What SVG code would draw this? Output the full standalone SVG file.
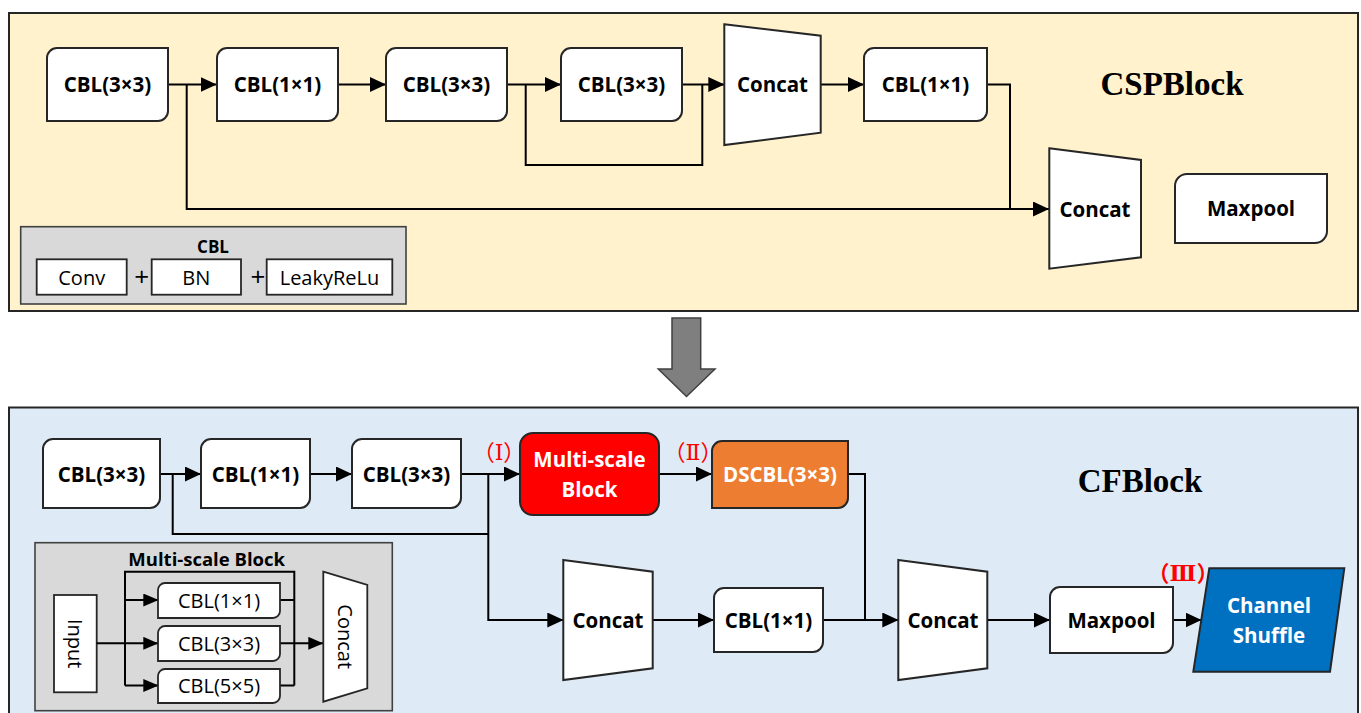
<svg xmlns="http://www.w3.org/2000/svg" width="1361" height="713" viewBox="0 0 1361 713">
<style>
.panel{stroke:#262626;stroke-width:2}
.node{fill:#fff;stroke:#262626;stroke-width:2}
.leg{fill:#D9D9D9;stroke:#404040;stroke-width:1.6}
.lbox{fill:#fff;stroke:#262626;stroke-width:1.8}
.con{fill:none;stroke:#000;stroke-width:2}
.b{font-family:"Open Sans","Liberation Sans",sans-serif;font-weight:bold;font-size:20.5px;text-anchor:middle;fill:#000}
.r{font-family:"Open Sans","Liberation Sans",sans-serif;font-size:20px;text-anchor:middle;fill:#000}
.w{fill:#fff}
.title{font-family:"Liberation Serif","Times New Roman",serif;font-weight:bold;font-size:33px;text-anchor:middle;fill:#000}
.num{font-family:"Liberation Serif","DejaVu Serif","Noto Sans CJK SC",serif;font-size:22px;text-anchor:middle;fill:#FF0000}
</style>
<defs>
<marker id="ah" viewBox="0 0 16 15" refX="16" refY="7.5" markerWidth="16" markerHeight="15" markerUnits="userSpaceOnUse" orient="auto">
<path d="M0,0 L16,7.5 L0,15 Z" fill="#000"/>
</marker>
<marker id="ahs" viewBox="0 0 15 13" refX="15" refY="6.5" markerWidth="15" markerHeight="13" markerUnits="userSpaceOnUse" orient="auto">
<path d="M0,0 L15,6.5 L0,13 Z" fill="#000"/>
</marker>
</defs>

<g id="panels">
<rect class="panel" x="9" y="13" width="1349" height="298" fill="#FFF2CC"/>
<rect class="panel" x="9" y="407.5" width="1349" height="320" fill="#DEEBF7"/>
<polygon points="672,318 700.7,318 700.7,369 715,369 686.5,396.5 658.3,369 672,369" fill="#7F7F7F" stroke="#404040" stroke-width="1.5"/>
</g>

<g id="titles">
<text class="title" x="1172" y="95">CSPBlock</text>
<text class="title" x="1140" y="492">CFBlock</text>
</g>

<g id="cbl-legend">
<rect class="leg" x="20.7" y="226.7" width="385.3" height="77.3"/>
<text class="b" x="213" y="253" style="font-size:17px">CBL</text>
<rect class="lbox" x="36.7" y="259.3" width="90" height="35.4"/>
<text class="r" x="81.7" y="284.5">Conv</text>
<text class="r" x="141.7" y="286" style="font-size:26px">+</text>
<rect class="lbox" x="151.7" y="259.3" width="89.3" height="35.4"/>
<text class="r" x="196.3" y="284.5">BN</text>
<text class="r" x="258" y="286" style="font-size:26px">+</text>
<rect class="lbox" x="266.7" y="259.3" width="125.6" height="35.4"/>
<text class="r" x="329.5" y="284.5">LeakyReLu</text>
</g>

<g id="connectors">
<path class="con" d="M168,84.5 H216.7" marker-end="url(#ah)"/>
<path class="con" d="M186.7,84.5 V209 H1049" marker-end="url(#ah)"/>
<path class="con" d="M338,84.5 H386" marker-end="url(#ah)"/>
<path class="con" d="M507,84.5 H561" marker-end="url(#ah)"/>
<path class="con" d="M525.7,84.5 V165 H702.3 V84.5"/>
<path class="con" d="M682,84.5 H724.3" marker-end="url(#ah)"/>
<path class="con" d="M820.7,84.5 H864" marker-end="url(#ah)"/>
<path class="con" d="M987,84.5 H1010 V209"/>

<path class="con" d="M160,474 H201" marker-end="url(#ah)"/>
<path class="con" d="M172.7,474 V534 H488.3"/>
<path class="con" d="M310,474 H352" marker-end="url(#ah)"/>
<path class="con" d="M461,474 H520" marker-end="url(#ah)"/>
<path class="con" d="M488.3,474 V620 H563.3" marker-end="url(#ah)"/>
<path class="con" d="M659,474 H712" marker-end="url(#ah)"/>
<path class="con" d="M848,474 H865 V620"/>
<path class="con" d="M652.7,620 H714" marker-end="url(#ah)"/>
<path class="con" d="M823,620 H898.3" marker-end="url(#ah)"/>
<path class="con" d="M987.3,620 H1050" marker-end="url(#ah)"/>
<path class="con" d="M1173,620 H1201.5" marker-end="url(#ah)"/>
</g>

<g id="n-cbl1"><path class="node" d="M57,48 H168 V111 A10,10 0 0 1 158,121 H47 V58 A10,10 0 0 1 57,48 Z"/><text class="b" x="107.5" y="92">CBL(3×3)</text></g>
<g id="n-cbl2"><path class="node" d="M227,48 H338 V111 A10,10 0 0 1 328,121 H217 V58 A10,10 0 0 1 227,48 Z"/><text class="b" x="277.5" y="92">CBL(1×1)</text></g>
<g id="n-cbl3"><path class="node" d="M396,48 H507 V111 A10,10 0 0 1 497,121 H386 V58 A10,10 0 0 1 396,48 Z"/><text class="b" x="446.5" y="92">CBL(3×3)</text></g>
<g id="n-cbl4"><path class="node" d="M571,48 H682 V111 A10,10 0 0 1 672,121 H561 V58 A10,10 0 0 1 571,48 Z"/><text class="b" x="621.5" y="92">CBL(3×3)</text></g>
<g id="n-concat1"><polygon class="node" points="724.3,24.3 820.7,35.7 820.7,132.7 724.3,145"/><text class="b" x="772.5" y="92">Concat</text></g>
<g id="n-cbl5"><path class="node" d="M874,48 H987 V111 A10,10 0 0 1 977,121 H864 V58 A10,10 0 0 1 874,48 Z"/><text class="b" x="925.5" y="92">CBL(1×1)</text></g>
<g id="n-concat2"><polygon class="node" points="1049.3,148.3 1141,160 1141,257.3 1049.3,268.7"/><text class="b" x="1095" y="216.5">Concat</text></g>
<g id="n-maxpool1"><path class="node" d="M1187,174 H1327 V231 A12,12 0 0 1 1315,243 H1175 V186 A12,12 0 0 1 1187,174 Z"/><text class="b" x="1251" y="216">Maxpool</text></g>

<g id="n-b-cbl1"><path class="node" d="M53,439 H160 V498 A10,10 0 0 1 150,508 H43 V449 A10,10 0 0 1 53,439 Z"/><text class="b" x="101.5" y="481.5">CBL(3×3)</text></g>
<g id="n-b-cbl2"><path class="node" d="M211,439 H310 V498 A10,10 0 0 1 300,508 H201 V449 A10,10 0 0 1 211,439 Z"/><text class="b" x="255.5" y="481.5">CBL(1×1)</text></g>
<g id="n-b-cbl3"><path class="node" d="M362,439 H461 V498 A10,10 0 0 1 451,508 H352 V449 A10,10 0 0 1 362,439 Z"/><text class="b" x="406.5" y="481.5">CBL(3×3)</text></g>
<g id="n-multiscale"><rect class="node" x="520" y="433" width="139" height="82" rx="13" style="fill:#FF0000"/><text class="b w" x="589.5" y="467">Multi-scale</text><text class="b w" x="589.5" y="497">Block</text></g>
<g id="n-dscbl"><path class="node" d="M722,441 H848 V498 A10,10 0 0 1 838,508 H712 V451 A10,10 0 0 1 722,441 Z" style="fill:#ED7D31"/><text class="b w" x="780" y="481.5">DSCBL(3×3)</text></g>
<g id="n-b-concat1"><polygon class="node" points="563.3,560 652.7,571.7 652.7,668.3 563.3,680"/><text class="b" x="608" y="627.5">Concat</text></g>
<g id="n-b-cbl4"><path class="node" d="M724,588 H823 V642 A10,10 0 0 1 813,652 H714 V598 A10,10 0 0 1 724,588 Z"/><text class="b" x="768.5" y="627.5">CBL(1×1)</text></g>
<g id="n-b-concat2"><polygon class="node" points="898.3,560 987.3,571.7 987.3,668.3 898.3,680"/><text class="b" x="943" y="627.5">Concat</text></g>
<g id="n-b-maxpool"><path class="node" d="M1060,587 H1173 V643 A10,10 0 0 1 1163,653 H1050 V597 A10,10 0 0 1 1060,587 Z"/><text class="b" x="1111.5" y="627.5">Maxpool</text></g>
<g id="n-shuffle"><polygon class="node" points="1209.3,568.3 1344.3,568.3 1330,671.7 1193.3,671.7" style="fill:#0070C0"/><text class="b w" x="1269" y="612.7">Channel</text><text class="b w" x="1269" y="642.7">Shuffle</text></g>

<g id="labels">
<text class="num" x="499" y="460">（Ⅰ）</text>
<text class="num" x="693" y="460">（Ⅱ）</text>
<text class="num" x="1183" y="581" style="font-weight:bold">（Ⅲ）</text>
</g>

<g id="ms-legend">
<rect class="leg" x="35" y="542.7" width="357.3" height="168"/>
<text class="b" x="206.7" y="565.5" style="font-size:18.5px">Multi-scale Block</text>
<rect class="lbox" x="54" y="595" width="42.7" height="97.3"/>
<text class="r" transform="translate(75.3,643.7) rotate(90)" x="0" y="7">Input</text>
<path class="con" d="M96.7,643.3 H158.3" marker-end="url(#ahs)"/>
<path class="con" d="M125,600 H158.3" marker-end="url(#ahs)"/>
<path class="con" d="M125,685.5 H158.3" marker-end="url(#ahs)"/>
<path class="con" d="M125,685.5 V571.7 H294.3 V685.5"/>
<path class="con" d="M280,600 H294.3 M280,685.5 H294.3"/>
<path class="con" d="M280,643.3 H323.3" marker-end="url(#ahs)"/>
<path class="lbox" d="M165,583 H280 V611 A7,7 0 0 1 273,618 H158 V590 A7,7 0 0 1 165,583 Z"/>
<text class="r" x="219" y="607.5">CBL(1×1)</text>
<path class="lbox" d="M165,626 H280 V654 A7,7 0 0 1 273,661 H158 V633 A7,7 0 0 1 165,626 Z"/>
<text class="r" x="219" y="650.5">CBL(3×3)</text>
<path class="lbox" d="M165,669 H280 V696 A7,7 0 0 1 273,703 H158 V676 A7,7 0 0 1 165,669 Z"/>
<text class="r" x="219" y="693.3">CBL(5×5)</text>
<polygon class="lbox" points="323.3,571.7 367.3,585 367.3,688.3 323.3,701.7"/>
<text class="r" transform="translate(345,636.7) rotate(90)" x="0" y="7">Concat</text>
</g>
</svg>
